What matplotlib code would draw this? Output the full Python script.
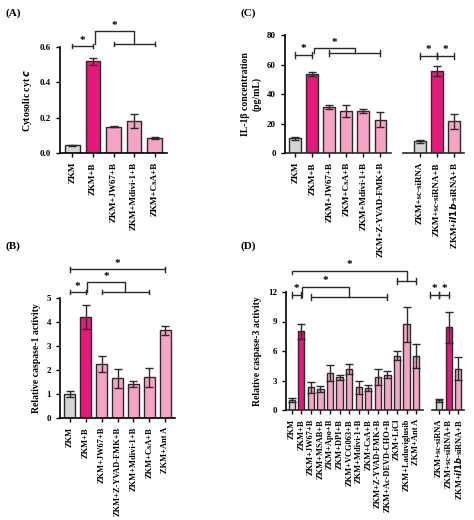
import matplotlib
matplotlib.use("Agg")
import matplotlib.pyplot as plt
import numpy as np

plt.rcParams['font.family'] = ['Liberation Serif', 'DejaVu Serif']
plt.rcParams['font.weight'] = 'bold'

GREY, MAG, PINK = '#d4d4d4', '#e8177a', '#f7a3c6'
EDGE = '#2a2a2a'

# Panel A
a_labels = ['ZKM', 'ZKM+B', 'ZKM+JW67+B', 'ZKM+Mdivi-1+B', 'ZKM+CsA+B']
a_vals = [0.045, 0.52, 0.15, 0.18, 0.087]
a_err = [0.003, 0.02, 0.003, 0.04, 0.005]
# Panel B
b_labels = ['ZKM', 'ZKM+B', 'ZKM+JW67+B', 'ZKM+Z-YVAD-FMK+B', 'ZKM+Mdivi-1+B', 'ZKM+CsA+B', 'ZKM+Ant A']
b_vals = [1.0, 4.2, 2.25, 1.65, 1.42, 1.7, 3.65]
b_err = [0.12, 0.5, 0.35, 0.38, 0.12, 0.4, 0.2]
# Panel C
c_labels = ['ZKM', 'ZKM+B', 'ZKM+JW67+B', 'ZKM+CsA+B', 'ZKM+Mdivi-1+B', 'ZKM+Z-YVAD-FMK+B',
            'ZKM+sc-siRNA', 'ZKM+sc-siRNA+B', 'ZKM+$\\mathit{il1b}$-siRNA+B']
c_vals = [10, 53.5, 31, 28.5, 28.5, 22.5, 8, 55.5, 21.5]
c_err = [1, 1.5, 1.5, 4, 1.5, 5, 1, 3.5, 5]
# Panel D
d_labels = ['ZKM', 'ZKM+B', 'ZKM+JW67+B', 'ZKM+MSAB+B', 'ZKM+Apo+B', 'ZKM+DPI+B', 'ZKM+VCG063+B',
            'ZKM+Mdivi-1+B', 'ZKM+CsA+B', 'ZKM+Z-YVAD-FMK+B', 'ZKM+Ac-DEVD-CHO+B', 'ZKM+LiCl',
            'ZKM+Laduviglusib', 'ZKM+Ant A', 'ZKM+sc-siRNA', 'ZKM+sc-siRNA+B', 'ZKM+$\\mathit{il1b}$-siRNA+B']
d_vals = [1.0, 8.0, 2.3, 2.1, 3.8, 3.35, 4.15, 2.3, 2.2, 3.35, 3.6, 5.5, 8.7, 5.5, 1.0, 8.4, 4.2]
d_err = [0.2, 0.75, 0.55, 0.3, 0.8, 0.25, 0.5, 0.7, 0.3, 0.8, 0.35, 0.45, 1.75, 1.25, 0.15, 1.6, 1.15]

W, H = 474, 520
fig = plt.figure(figsize=(W/100, H/100), dpi=100)

def ax_px(l, t, r, b):
    return fig.add_axes([l/W, 1-b/H, (r-l)/W, (b-t)/H])

def colors(n, greys, mags):
    return [GREY if i in greys else MAG if i in mags else PINK for i in range(n)]

def draw(ax, x, vals, err, labels, cols, ylim, yticks, ylabel, fs=6.5, width=0.7):
    ax.bar(x, vals, width=width, color=cols, edgecolor=EDGE, linewidth=1.0, zorder=2)
    ax.errorbar(x, vals, yerr=err, fmt='none', ecolor=EDGE, elinewidth=1.0, capsize=3, capthick=1.0, zorder=3)
    ax.set_ylim(*ylim)
    ax.set_yticks(yticks)
    ax.set_xticks(x)
    ax.set_xticklabels(labels, rotation=90, fontsize=fs, fontweight='bold')
    ax.tick_params(axis='y', labelsize=6.5, width=1, length=3)
    ax.tick_params(axis='x', width=1, length=3)
    for lab in ax.get_yticklabels():
        lab.set_fontweight('bold')
    ax.set_ylabel(ylabel, fontsize=7, fontweight='bold')
    for s in ['top', 'right']:
        ax.spines[s].set_visible(False)
    for s in ['left', 'bottom']:
        ax.spines[s].set_linewidth(1.2)

def hbar(ax, x1, x2, y, tick, star=False):
    ax.plot([x1, x2], [y, y], color=EDGE, lw=1, clip_on=False)
    ax.plot([x1, x1], [y - tick, y + tick], color=EDGE, lw=1, clip_on=False)
    ax.plot([x2, x2], [y - tick, y + tick], color=EDGE, lw=1, clip_on=False)
    if star:
        ax.text((x1 + x2)/2, y + tick*0.6, '*', ha='center', va='bottom', fontsize=8, fontweight='bold', clip_on=False)

def group(ax, x0, g1, g2, ytop, yg, tick):
    hbar(ax, g1, g2, yg, tick)
    m = (g1 + g2)/2
    ax.plot([x0, x0, m, m], [yg, ytop, ytop, yg], color=EDGE, lw=1, clip_on=False)
    ax.text((x0 + m)/2, ytop + tick*0.6, '*', ha='center', va='bottom', fontsize=8, fontweight='bold', clip_on=False)

def broken_xaxis(ax, segs):
    ax.spines['bottom'].set_visible(False)
    tr = ax.get_xaxis_transform()
    for a, b in segs:
        ax.plot([a, b], [0, 0], color=EDGE, lw=1.2, transform=tr, clip_on=False)

# A
axA = ax_px(60, 47, 167, 153)
xa = np.arange(len(a_vals))
draw(axA, xa, a_vals, a_err, a_labels, colors(5, [0], [1]), (0, 0.6), [0, 0.2, 0.4, 0.6], 'Cytosolic cyt $\\mathit{c}$')
axA.set_xlim(-0.6, 4.6)
hbar(axA, 0, 1, 0.605, 0.012, star=True)
group(axA, 1.1, 2, 4, 0.69, 0.618, 0.012)

# C
axC = ax_px(285, 35, 464, 153)
xc = np.array([0, 1, 2, 3, 4, 5, 7.3, 8.3, 9.3])
draw(axC, xc, c_vals, c_err, c_labels, colors(9, [0, 6], [1, 7]), (0, 80), [0, 20, 40, 60, 80],
     'IL-1β concentration\n(pg/mL)')
axC.set_xlim(-0.6, 9.9)
broken_xaxis(axC, [(-0.6, 5.6), (6.3, 9.9)])
hbar(axC, 0, 1, 66.5, 2, star=True)
group(axC, 1.1, 2, 5, 71, 67.5, 2)
hbar(axC, 7.3, 8.3, 66, 2, star=True)
hbar(axC, 8.3, 9.3, 66, 2, star=True)

# B
axB = ax_px(60, 298, 175, 418)
xb = np.arange(len(b_vals))
draw(axB, xb, b_vals, b_err, b_labels, colors(7, [0], [1]), (0, 5), [0, 1, 2, 3, 4, 5],
     'Relative caspase-1 activity', fs=6)
axB.set_xlim(-0.6, 6.6)
hbar(axB, 0, 1, 5.25, 0.1, star=True)
group(axB, 1.1, 2, 5, 5.65, 5.25, 0.1)
hbar(axB, 0, 6, 6.2, 0.1, star=True)

# D
axD = ax_px(286, 292, 464, 410)
xd = np.array(list(range(14)) + [15.4, 16.4, 17.4])
draw(axD, xd, d_vals, d_err, d_labels, colors(17, [0, 14], [1, 15]), (0, 12), [0, 3, 6, 9, 12],
     'Relative caspase-3 activity', fs=6, width=0.65)
axD.set_xlim(-0.6, 18.0)
broken_xaxis(axD, [(-0.6, 13.7), (14.7, 18.0)])
hbar(axD, 0, 1, 11.7, 0.3, star=True)
group(axD, 1.1, 2, 10, 12.5, 11.5, 0.3)
hbar(axD, 11, 13, 13.1, 0.3)
axD.plot([0, 0, 12, 12], [13.8, 14.1, 14.1, 13.1], color=EDGE, lw=1, clip_on=False)
axD.text(6, 14.1 + 0.2, '*', ha='center', va='bottom', fontsize=8, fontweight='bold')
hbar(axD, 14.4, 15.4, 11.7, 0.3, star=True)
hbar(axD, 15.4, 16.4, 11.7, 0.3, star=True)

for lab, x, y in [('(A)', 5, 13), ('(C)', 240, 13), ('(B)', 5, 246), ('(D)', 240, 246)]:
    fig.text(x/W, 1-y/H, lab, fontsize=8, fontweight='bold', va='center', ha='left')

fig.savefig('out.png', dpi=100)
